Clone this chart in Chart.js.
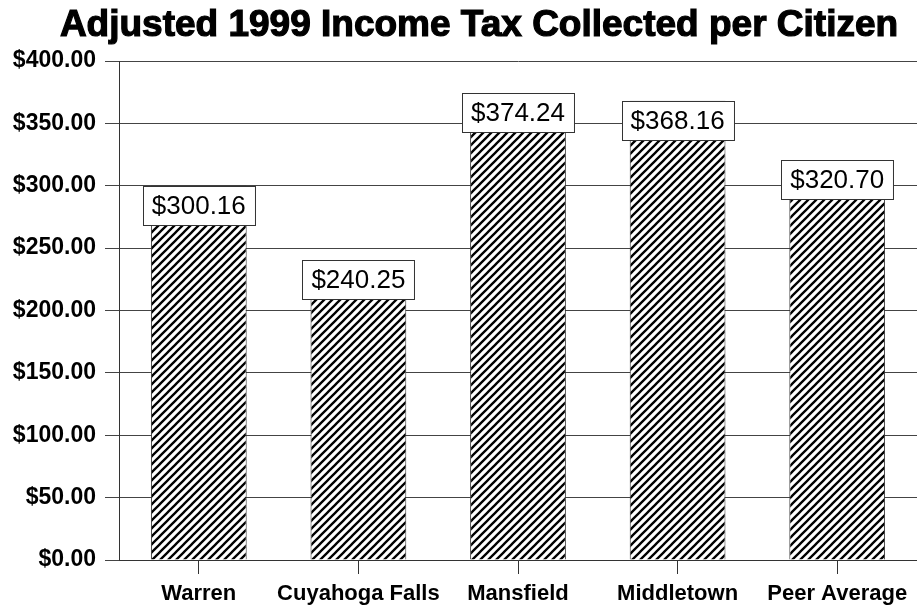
<!DOCTYPE html>
<html>
<head>
    <title>Income Tax per Citizen</title>
    <script src="https://cdn.jsdelivr.net/npm/chart.js"></script>
    <style>
        body { margin: 0; background: white; }
        canvas { display: block; }
    </style>
</head>
<body>
    <canvas id="taxChart" width="917" height="608"></canvas>

    <script>
        const chartTitle = 'Adjusted 1999 Income Tax Collected per Citizen';
        const cities = ['Warren', 'Cuyahoga Falls', 'Mansfield', 'Middletown', 'Peer Average'];
        const taxPerCitizen = [300.16, 240.25, 374.24, 368.16, 320.70];
        const yMin = 0;
        const yMax = 400;
        const yStep = 50;

        const FONT = "'Liberation Sans', Arial, sans-serif";

        // diagonal "/" hatch used to fill the bars
        function makeHatch() {
            const tile = document.createElement('canvas');
            tile.width = 8;
            tile.height = 8;
            const t = tile.getContext('2d');
            t.fillStyle = 'white';
            t.fillRect(0, 0, 8, 8);
            t.strokeStyle = 'black';
            t.lineWidth = 2.3;
            t.beginPath();
            for (const c of [0, 8, 16]) {
                t.moveTo(c - 10, 10);
                t.lineTo(c + 2, -2);
            }
            t.stroke();
            return t.createPattern(tile, 'repeat');
        }

        const ctx = document.getElementById('taxChart').getContext('2d');

        // heavy title drawn onto the canvas, slightly right of the page centre
        const titlePlugin = {
            id: 'titleText',
            afterDraw(chart) {
                const c = chart.ctx;
                c.save();
                c.font = 'bold 37px ' + FONT;
                c.fillStyle = 'black';
                c.strokeStyle = 'black';
                c.lineWidth = 1.2;
                c.textAlign = 'center';
                c.textBaseline = 'alphabetic';
                c.fillText(chartTitle, 479, 36);
                c.strokeText(chartTitle, 479, 36);
                c.restore();
            }
        };

        // boxed value labels sitting on the top of each bar
        const valueBoxes = {
            id: 'valueBoxes',
            afterDatasetsDraw(chart) {
                const c = chart.ctx;
                const meta = chart.getDatasetMeta(0);
                c.save();
                c.font = '26px ' + FONT;
                c.textAlign = 'center';
                c.textBaseline = 'middle';
                meta.data.forEach((bar, i) => {
                    const text = '$' + taxPerCitizen[i].toFixed(2);
                    const w = c.measureText(text).width + 18;
                    const h = 39;
                    const left = Math.round(bar.x - w / 2) + 0.5;
                    const top = Math.round(bar.y) + 0.5;
                    c.fillStyle = 'white';
                    c.fillRect(left, top, w, h);
                    c.strokeStyle = '#333';
                    c.lineWidth = 1;
                    c.strokeRect(left, top, w, h);
                    c.fillStyle = 'black';
                    c.fillText(text, bar.x, top + h / 2 + 1);
                });
                c.restore();
            }
        };

        const chart = new Chart(ctx, {
            type: 'bar',
            data: {
                labels: cities,
                datasets: [{
                    data: taxPerCitizen,
                    backgroundColor: makeHatch(),
                    borderColor: '#333',
                    borderWidth: 1,
                    categoryPercentage: 1,
                    barPercentage: 0.6
                }]
            },
            options: {
                responsive: false,
                animation: false,
                layout: {
                    padding: { top: 61, left: 0, right: 0, bottom: 0 }
                },
                plugins: {
                    legend: { display: false },
                    title: { display: false },
                    tooltip: { enabled: false }
                },
                scales: {
                    x: {
                        offset: true,
                        afterFit(scale) { scale.height = 48; },
                        grid: {
                            offset: false,
                            drawOnChartArea: false,
                            drawTicks: true,
                            tickLength: 14,
                            color: '#333'
                        },
                        border: { display: true, color: '#333' },
                        ticks: {
                            color: 'black',
                            padding: 7,
                            maxRotation: 0,
                            autoSkip: false,
                            font: { family: FONT, size: 22, weight: 'bold' }
                        }
                    },
                    y: {
                        min: yMin,
                        max: yMax,
                        afterFit(scale) { scale.width = 119; },
                        grid: {
                            color: '#444',
                            tickLength: 14
                        },
                        border: { display: true, color: '#333' },
                        ticks: {
                            stepSize: yStep,
                            color: 'black',
                            padding: 9,
                            font: { family: FONT, size: 23, weight: 'bold' },
                            callback: v => '$' + v.toFixed(2)
                        }
                    }
                }
            },
            plugins: [valueBoxes, titlePlugin]
        });
    </script>
</body>
</html>
